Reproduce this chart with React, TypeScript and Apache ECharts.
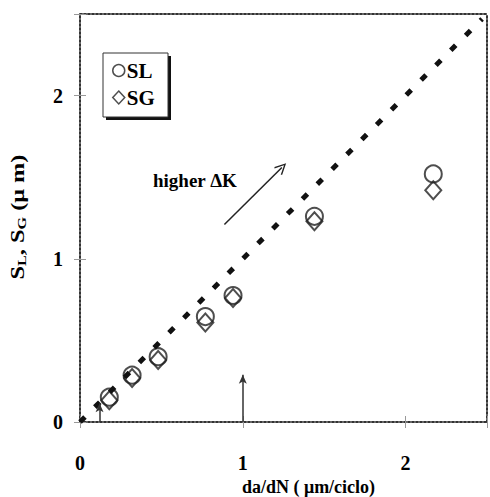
import React, { useEffect, useRef } from "react";
import * as echarts from "echarts";

// Data
const daDN = [0.18, 0.32, 0.48, 0.77, 0.94, 1.44, 2.17];
const SL = [0.152, 0.287, 0.4, 0.646, 0.775, 1.26, 1.52];
const SG = [0.134, 0.27, 0.38, 0.61, 0.76, 1.23, 1.42];
const refLineX = [0, 2.47];
const refLineY = [0, 2.47];
const smallArrowX = [0.12, 1.0];
const smallArrowTop = [0.115, 0.29];
const trendArrowFrom = [0.887, 1.21];
const trendArrowTo = [1.24, 1.56];
const tickValues = [0, 1, 2];
const axisMin = 0;
const axisMax = 2.5;

const FONT = "'Liberation Serif', 'Times New Roman', serif";
const INK = "#000";

export default function App() {
  const ref = useRef<HTMLDivElement>(null);
  useEffect(() => {
    if (!ref.current) return;
    const chart = echarts.init(ref.current, undefined, { renderer: "svg" });
    const labelFmt = (v: number) => (tickValues.includes(Math.round(v * 1000) / 1000) ? String(v) : "");
    const dotted = { type: [2, 2] as any, width: 2, color: "#333" };
    const tickStyle = { color: "#999", width: 1 };
    const baseAxis = { min: axisMin, max: axisMax, interval: 1, splitLine: { show: false } };

    const chevron = "path://M5,0 L10,11 L9,12 L5,3 L1,12 L0,11 Z";

    const option: any = {
      animation: false,
      backgroundColor: "#fff",
      grid: { left: 80, top: 14, right: 3, bottom: 75, containLabel: false, outerBoundsMode: "none" },
      legend: {
        orient: "vertical",
        left: 112,
        top: 60,
        padding: 0,
        itemGap: 6,
        itemWidth: 12,
        itemHeight: 13,
        z: 10,
        textStyle: { fontFamily: FONT, fontWeight: "bold", fontSize: 21, color: INK, padding: [0, 0, 0, -3] },
        data: [
          { name: "SL", icon: "circle", itemStyle: { color: "#fff", borderColor: "#222", borderWidth: 1.5 } },
          { name: "SG", icon: "diamond", itemStyle: { color: "#fff", borderColor: "#222", borderWidth: 1.5 } },
        ],
      },
      xAxis: [
        {
          ...baseAxis,
          type: "value",
          position: "bottom",
          name: "da/dN ( μm/ciclo)",
          nameLocation: "middle",
          nameGap: 56,
          nameTextStyle: { fontFamily: FONT, fontWeight: "bold", fontSize: 18, color: INK, padding: [0, 0, 0, 50] },
          axisLine: { show: true, onZero: false, lineStyle: dotted },
          axisTick: { show: true, length: 6, lineStyle: tickStyle },
          axisLabel: { margin: 31, formatter: labelFmt, fontFamily: FONT, fontWeight: "bold", fontSize: 20, color: INK },
        },
        {
          ...baseAxis,
          type: "value",
          position: "bottom",
          axisLine: { show: false, onZero: false },
          axisTick: { show: true, inside: true, length: 6, lineStyle: tickStyle },
          axisLabel: { show: false },
        },
        {
          ...baseAxis,
          type: "value",
          position: "top",
          axisLine: { show: true, onZero: false, lineStyle: dotted },
          axisTick: { show: false },
          axisLabel: { show: false },
        },
      ],
      yAxis: [
        {
          ...baseAxis,
          type: "value",
          position: "left",
          axisLine: { show: true, onZero: false, lineStyle: dotted },
          axisTick: { show: true, length: 6, lineStyle: tickStyle },
          axisLabel: { margin: 17, formatter: labelFmt, fontFamily: FONT, fontWeight: "bold", fontSize: 20, color: INK },
        },
        {
          ...baseAxis,
          type: "value",
          position: "left",
          axisLine: { show: false, onZero: false },
          axisTick: { show: true, inside: true, length: 6, lineStyle: tickStyle },
          axisLabel: { show: false },
        },
        {
          ...baseAxis,
          type: "value",
          position: "right",
          axisLine: { show: true, onZero: false, lineStyle: dotted },
          axisTick: { show: false },
          axisLabel: { show: false },
        },
      ],
      series: [
        {
          name: "reference",
          type: "line",
          data: refLineX.map((x, i) => [x, refLineY[i]]),
          showSymbol: false,
          symbol: "none",
          silent: true,
          lineStyle: { color: "#111", width: 5, type: [7, 14] },
          markLine: {
            silent: true,
            label: { show: false },
            data: [
              ...smallArrowX.map((x, i) => [
                { coord: [x, 0], symbol: "none", lineStyle: { color: "#333", width: 1.5, type: "solid" } },
                { coord: [x, smallArrowTop[i]], symbol: "arrow", symbolSize: [6, 9] },
              ]),
              [
                { coord: trendArrowFrom, symbol: "none", lineStyle: { color: "#222", width: 1.5, type: "solid" } },
                { coord: trendArrowTo, symbol: chevron, symbolSize: [11, 12] },
              ],
            ],
          },
        },
        {
          name: "SL",
          type: "scatter",
          data: daDN.map((x, i) => [x, SL[i]]),
          symbol: "circle",
          symbolSize: 17,
          itemStyle: { color: "rgba(255,255,255,0)", borderColor: "#222", borderWidth: 2 },
        },
        {
          name: "SG",
          type: "scatter",
          data: daDN.map((x, i) => [x, SG[i]]),
          symbol: "diamond",
          symbolSize: [16, 18],
          itemStyle: { color: "rgba(255,255,255,0)", borderColor: "#222", borderWidth: 2 },
        },
      ],
      graphic: [
        {
          type: "rect",
          z: 5,
          shape: { x: 106, y: 56, width: 65, height: 64 },
          style: { fill: "#111" },
        },
        {
          type: "rect",
          z: 6,
          shape: { x: 103, y: 53, width: 65, height: 64 },
          style: { fill: "#fff", stroke: "#333", lineWidth: 1 },
        },
        {
          type: "text",
          left: 153,
          top: 171,
          style: { text: "higher ΔK", font: `bold 19px ${FONT}`, fill: INK },
        },
        {
          type: "text",
          x: 18,
          y: 217,
          rotation: Math.PI / 2,
          scaleX: 1.35,
          style: {
            text: "{m|S}{s|L}{m|, S}{s|G}{m| (μ m)}",
            align: "center",
            verticalAlign: "middle",
            rich: {
              m: { fontFamily: FONT, fontWeight: "bold", fontSize: 18, fill: INK },
              s: { fontFamily: FONT, fontWeight: "bold", fontSize: 12, fill: INK, verticalAlign: "bottom", padding: [8, 0, 0, 0] },
            },
          },
        },
      ],
    };
    chart.setOption(option);
    return () => chart.dispose();
  }, []);
  return <div ref={ref} style={{ width: 490, height: 497, position: "absolute", left: 0, top: 0 }} />;
}
